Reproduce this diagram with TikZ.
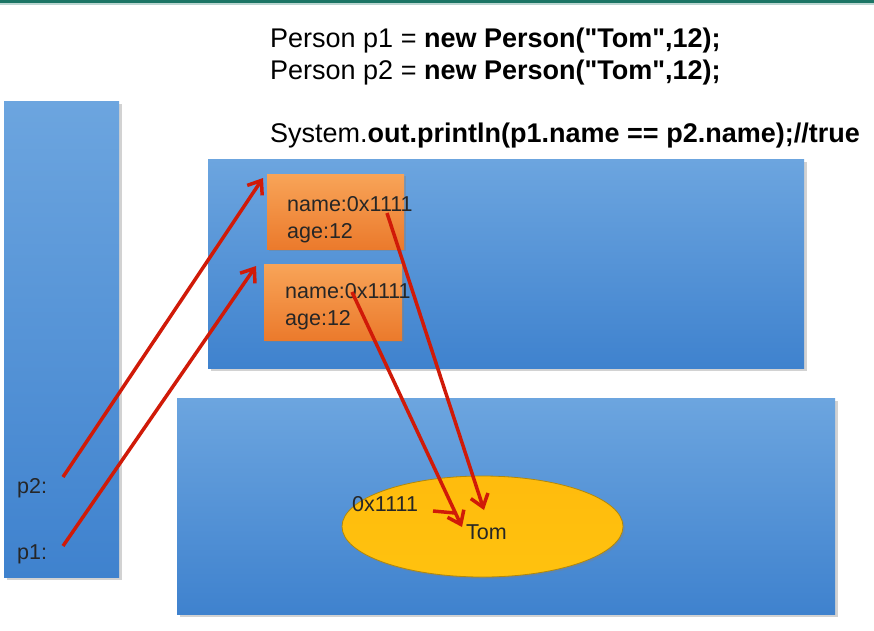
\documentclass[tikz,border=0pt]{standalone}
\usepackage{fontspec}
\setmainfont{Liberation Sans}
\usetikzlibrary{arrows.meta,shapes.geometric,shadows}
\definecolor{redline}{HTML}{D01A08}
\definecolor{bluetop}{HTML}{6CA5DF}
\definecolor{bluebot}{HTML}{3F82CE}
\definecolor{orgtop}{HTML}{F8A458}
\definecolor{orgbot}{HTML}{EB7A2C}
\definecolor{gold}{HTML}{FFC20E}
\definecolor{teal}{HTML}{1C7565}
\tikzset{
  mem/.style={rectangle, inner sep=0pt, top color=bluetop, bottom color=bluebot,
    drop shadow={shadow xshift=2.5pt, shadow yshift=-2.5pt, opacity=.35}},
  obj/.style={rectangle, inner sep=0pt, top color=orgtop, bottom color=orgbot,
    drop shadow={shadow xshift=2pt, shadow yshift=-2pt, opacity=.4}},
  code/.style={anchor=base west, inner sep=0pt, font=\fontsize{27}{31}\selectfont},
  lbl/.style={anchor=base west, inner sep=0pt, font=\fontsize{21.5}{25}\selectfont, text=black!85},
  ref/.style={draw=redline, line width=3.5pt, -{Straight Barb[length=12pt,width=18pt,line width=3.5pt]}},
}
\newcommand{\dq}{\textquotedbl}
\begin{document}
\begin{tikzpicture}[x=1pt,y=-1pt]
\useasboundingbox (0,0) rectangle (874,630);
\fill[white] (0,0) rectangle (874,630);
\fill[teal] (0,0) rectangle (874,3);
\fill[teal!30] (0,3) rectangle (874,4.5);

% code
\node[code] (c1) at (270,47) {Person p1 = \textbf{new Person(\dq Tom\dq,12);}};
\node[code] (c2) at (270,79) {Person p2 = \textbf{new Person(\dq Tom\dq,12);}};
\node[code] (c3) at (270,142) {System.\textbf{out.println(p1.name == p2.name);//true}};

% memory areas
\node[mem, minimum width=115pt, minimum height=476pt] (stack) at (61.5,339) {};
\node[mem, minimum width=596pt, minimum height=209pt] (heap) at (506,263.5) {};
\node[mem, minimum width=658pt, minimum height=216pt] (pool) at (506,506) {};

% objects
\node[obj, minimum width=137pt, minimum height=75pt] (objA) at (335.5,211.5) {};
\node[obj, minimum width=138pt, minimum height=76pt] (objB) at (333,302) {};
\node[lbl] (nA) at (287,211) {name:0x1111};
\node[lbl] (aA) at (287,238) {age:12};
\node[lbl] (nB) at (285,298) {name:0x1111};
\node[lbl] (aB) at (285,325) {age:12};

% string constant
\node[ellipse, draw=gold!70!black, line width=0.8pt, top color=gold!90!orange, bottom color=gold,
  minimum width=281pt, minimum height=101pt, inner sep=0pt,
  drop shadow={shadow xshift=2pt, shadow yshift=-2pt, opacity=.3}] (str) at (482.5,526.5) {};
\node[lbl] (tom) at (466,539) {Tom};
\node[lbl] (addr) at (352,511) {0x1111};

% stack labels
\node[lbl] (p2) at (17,493) {p2:};
\node[lbl] (p1) at (17,559) {p1:};

% connector end points
\coordinate (p2s) at (63,477);
\coordinate (p1s) at (63,546);
\coordinate (objAin) at (263,178);
\coordinate (objBin) at (256,266);
\coordinate (nAs) at (387,213);
\coordinate (nBs) at (352,292);
\coordinate (strA) at (484,510);
\coordinate (strB) at (462,527);
\coordinate (addrS) at (433,511);
\coordinate (addrE) at (455,513);

\draw[ref] (p2s) -- (objAin);
\draw[ref] (p1s) -- (objBin);
\draw[ref] (nAs) -- (strA);
\draw[ref] (nBs) -- (strB);
\draw[draw=redline, line width=3.5pt] (addrS) -- (addrE);
\end{tikzpicture}
\end{document}
